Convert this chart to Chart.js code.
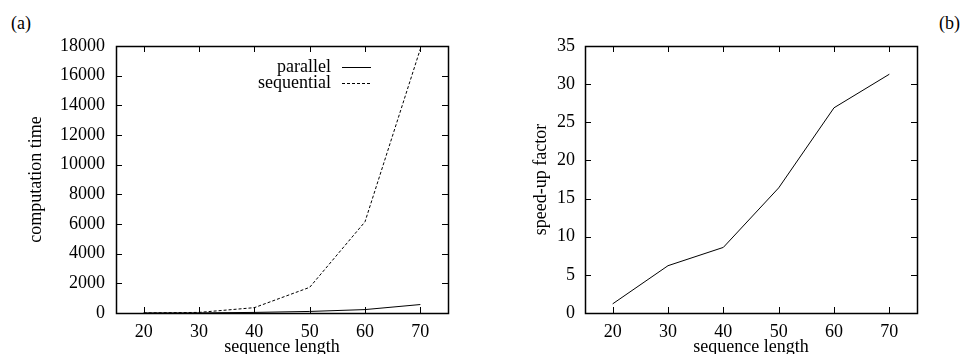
<!DOCTYPE html>
<html>
<head>
<meta charset="utf-8">
<script src="https://cdn.jsdelivr.net/npm/chart.js@4"></script>
<style>
  html, body { margin: 0; padding: 0; background: #fff; overflow: hidden; }
  body { width: 967px; height: 354px; position: relative; font-family: "Liberation Serif", "Times New Roman", serif; }
  canvas { position: absolute; top: 0; }
  #c1 { left: 0; }
  #c2 { left: 480px; }
  .tag { position: absolute; font-size: 18px; line-height: 20px; color: #000; }
</style>
</head>
<body>
<div class="tag" style="left:11px; top:13px;">(a)</div>
<div class="tag" style="left:939px; top:13px;">(b)</div>
<canvas id="c1" width="480" height="354"></canvas>
<canvas id="c2" width="487" height="354"></canvas>
<script>
// sequence lengths and measured values
const lengths = [20, 30, 40, 50, 60, 70];
const parallelTime = [3, 7, 40, 105, 230, 570];
const sequentialTime = [4, 40, 360, 1730, 6150, 17800];
const speedup = [1.2, 6.2, 8.6, 16.4, 26.9, 31.3];

const xTicks = [20, 30, 40, 50, 60, 70];
const timeTicks = [0, 2000, 4000, 6000, 8000, 10000, 12000, 14000, 16000, 18000];
const speedTicks = [0, 5, 10, 15, 20, 25, 30, 35];

const serif = '"Liberation Serif", "Times New Roman", serif';
Chart.defaults.font.family = serif;
Chart.defaults.font.size = 18;
Chart.defaults.color = '#000';

const pts = (ys) => lengths.map((x, i) => ({ x: x, y: ys[i] }));

// gnuplot-ish frame with inward ticks on all four sides
const frameTicks = {
  id: 'frameTicks',
  afterDatasetsDraw(chart) {
    const { ctx, chartArea: a, scales } = chart;
    const len = 6;
    ctx.save();
    ctx.strokeStyle = '#000';
    ctx.lineWidth = 1;
    ctx.beginPath();
    scales.x.ticks.forEach(t => {
      const px = Math.round(scales.x.getPixelForValue(t.value)) + 0.5;
      ctx.moveTo(px, a.bottom); ctx.lineTo(px, a.bottom - len);
      ctx.moveTo(px, a.top); ctx.lineTo(px, a.top + len);
    });
    scales.y.ticks.forEach(t => {
      const py = Math.round(scales.y.getPixelForValue(t.value)) + 0.5;
      ctx.moveTo(a.left, py); ctx.lineTo(a.left + len, py);
      ctx.moveTo(a.right, py); ctx.lineTo(a.right - len, py);
    });
    ctx.stroke();
    ctx.lineWidth = 1.5;
    ctx.strokeRect(Math.round(a.left) + 0.5, Math.round(a.top) + 0.5, Math.round(a.width), Math.round(a.height));
    ctx.restore();
  }
};

// key drawn like gnuplot: text right-aligned, sample line after it
const keyBox = {
  id: 'keyBox',
  afterDraw(chart, args, opts) {
    if (!opts.display) return;
    const ctx = chart.ctx;
    ctx.save();
    ctx.font = '18px ' + serif;
    ctx.textAlign = 'right';
    ctx.textBaseline = 'middle';
    chart.data.datasets.forEach((ds, i) => {
      const yy = opts.top + i * opts.rowHeight;
      ctx.fillStyle = '#000';
      ctx.fillText(ds.label, opts.textRight, yy);
      ctx.strokeStyle = ds.borderColor;
      ctx.lineWidth = ds.borderWidth;
      ctx.setLineDash(ds.borderDash || []);
      ctx.beginPath();
      ctx.moveTo(opts.textRight + 11, Math.round(yy) + 0.5);
      ctx.lineTo(opts.textRight + 40, Math.round(yy) + 0.5);
      ctx.stroke();
    });
    ctx.restore();
  }
};

function makeOptions(cfg) {
  return {
    responsive: false,
    animation: false,
    layout: { padding: { top: 46, right: cfg.padRight, left: 0, bottom: 0 } },
    plugins: {
      legend: { display: false },
      tooltip: { enabled: false },
      keyBox: cfg.key
    },
    scales: {
      x: {
        type: 'linear',
        min: 15,
        max: 75,
        afterBuildTicks: s => { s.ticks = xTicks.map(v => ({ value: v })); },
        afterFit: s => { s.height = 41; },
        grid: { display: false, drawTicks: false },
        border: { display: false },
        ticks: { padding: 8, maxRotation: 0, callback: v => String(v) },
        title: { display: true, text: 'sequence length', padding: { top: 0, bottom: -2 }, font: { size: 18, lineHeight: 1 } }
      },
      y: {
        type: 'linear',
        min: 0,
        max: cfg.yMax,
        afterBuildTicks: s => { s.ticks = cfg.yTicks.map(v => ({ value: v })); },
        afterFit: s => { s.width = cfg.yWidth; },
        grid: { display: false, drawTicks: false },
        border: { display: false },
        ticks: { padding: cfg.tickPad, callback: v => String(v) },
        title: { display: true, text: cfg.yTitle, padding: { top: cfg.titlePad, bottom: 0 }, font: { size: 18 } }
      }
    }
  };
}

new Chart(document.getElementById('c1'), {
  type: 'line',
  data: {
    datasets: [
      { label: 'parallel', data: pts(parallelTime), borderColor: '#000', borderWidth: 1, pointRadius: 0, tension: 0, clip: 3 },
      { label: 'sequential', data: pts(sequentialTime), borderColor: '#000', borderWidth: 1, borderDash: [3, 2], pointRadius: 0, tension: 0, clip: 3 }
    ]
  },
  options: makeOptions({
    padRight: 32, yMax: 18000, yTicks: timeTicks, yWidth: 116, tickPad: 11,
    yTitle: 'computation time', titlePad: 25,
    key: { display: true, textRight: 331, top: 67, rowHeight: 16 }
  }),
  plugins: [frameTicks, keyBox]
});

new Chart(document.getElementById('c2'), {
  type: 'line',
  data: {
    datasets: [
      { label: 'speed-up', data: pts(speedup), borderColor: '#000', borderWidth: 1, pointRadius: 0, tension: 0, clip: 3 }
    ]
  },
  options: makeOptions({
    padRight: 50, yMax: 35, yTicks: speedTicks, yWidth: 105, tickPad: 10,
    yTitle: 'speed-up factor', titlePad: 50,
    key: { display: false }
  }),
  plugins: [frameTicks, keyBox]
});
</script>
</body>
</html>
